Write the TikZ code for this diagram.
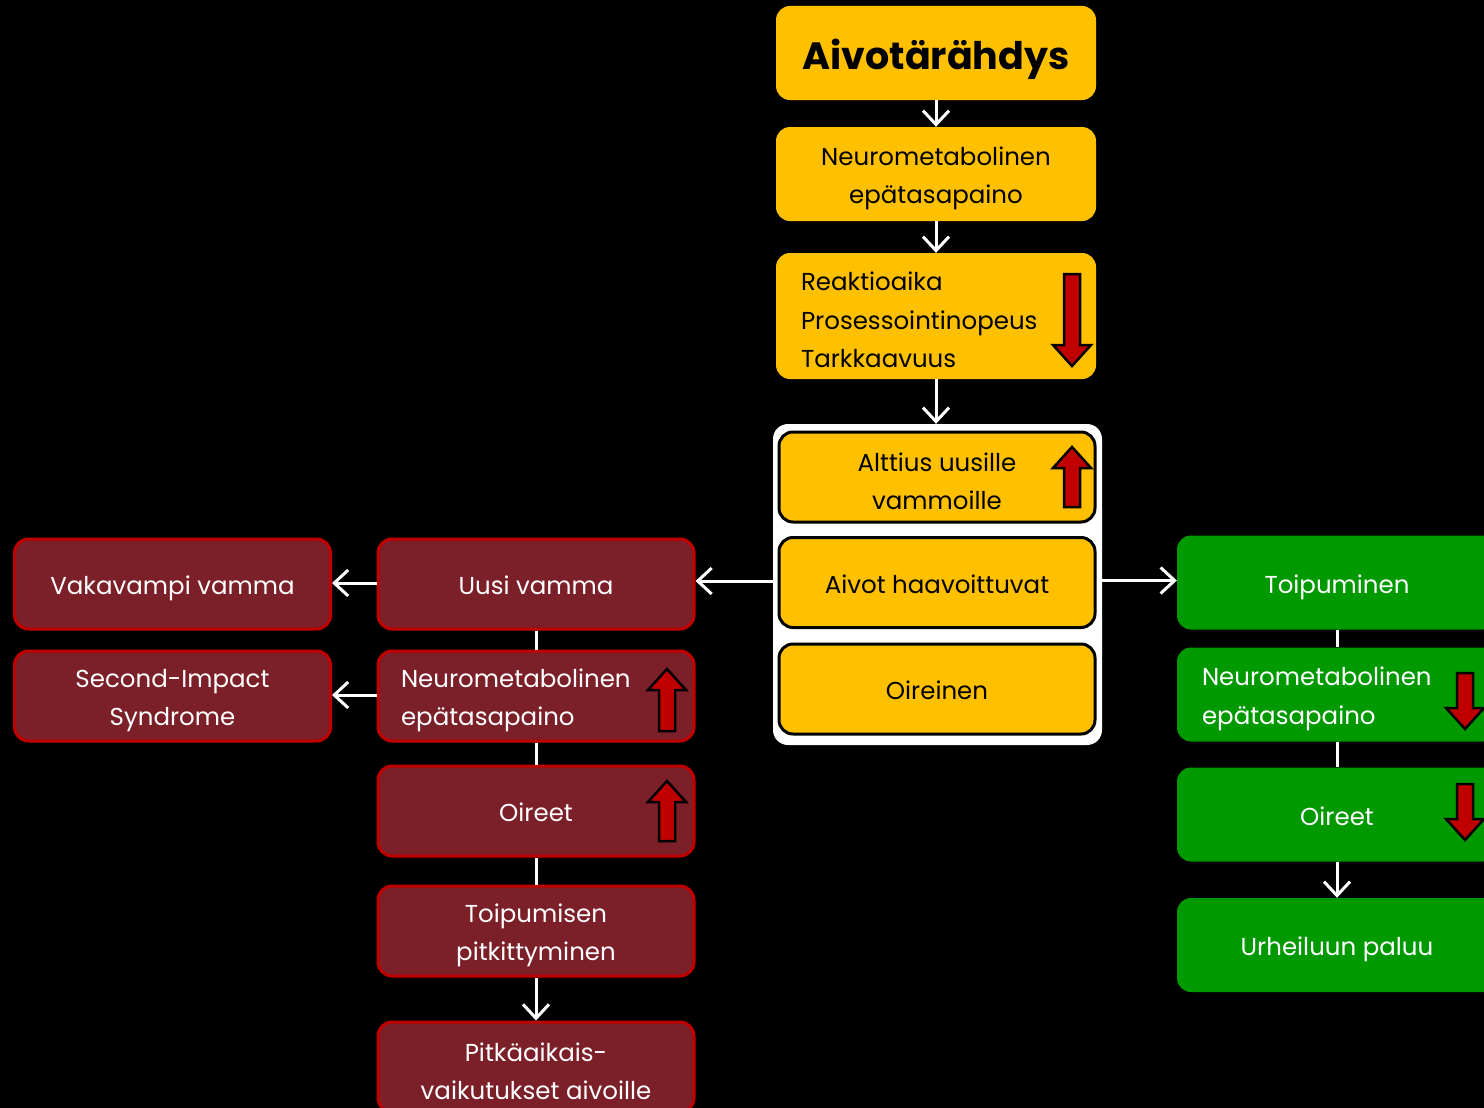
\documentclass[tikz,border=0pt]{standalone}
\usepackage{fontspec}
\setmainfont{Poppins}
\usetikzlibrary{arrows.meta}
\definecolor{ygold}{HTML}{FFC000}
\definecolor{rfill}{HTML}{7B1F29}
\definecolor{rline}{HTML}{C00000}
\definecolor{gfill}{HTML}{009900}
\definecolor{arrred}{HTML}{C00000}
\newcommand\fatdown[3]{\filldraw[fill=arrred,draw=black,line width=2.5pt,line join=miter]
  (#1-8,#2) -- (#1+8,#2) -- (#1+8,#3-21) -- (#1+19,#3-21) -- (#1,#3) -- (#1-19,#3-21) -- (#1-8,#3-21) -- cycle;}
\newcommand\fatup[3]{\filldraw[fill=arrred,draw=black,line width=2.5pt,line join=miter]
  (#1-8,#3) -- (#1+8,#3) -- (#1+8,#2+21) -- (#1+19,#2+21) -- (#1,#2) -- (#1-19,#2+21) -- (#1-8,#2+21) -- cycle;}
% box node + its text node, text lowered a little
\newcommand\bx[5][]{\node[#2] (#3) at #4 {};
  \node[#2text,#1] (#3t) at ([yshift=-4.5pt]#3.center) {#5};}
\tikzset{
  txt/.style={font=\fontsize{24.5}{38.5}\selectfont,inner sep=0pt,align=center},
  one/.style={text height=18pt,text depth=6pt},
  ybox/.style={rectangle,rounded corners=14pt,fill=ygold,minimum width=320pt,minimum height=94pt,inner sep=0pt},
  yboxtext/.style={txt,text=black},
  ybord/.style={ybox,draw=black,line width=3pt,minimum width=316pt,minimum height=90pt},
  ybordtext/.style={txt,text=black},
  rbox/.style={rectangle,rounded corners=14pt,fill=rfill,draw=rline,line width=3pt,minimum width=316pt,minimum height=90pt,inner sep=0pt},
  rboxtext/.style={txt,text=white},
  gbox/.style={rectangle,rounded corners=14pt,fill=gfill,minimum width=320pt,minimum height=94pt,inner sep=0pt},
  gboxtext/.style={txt,text=white},
  lefttext/.style={text width=270pt,align=left},
  conn/.style={draw=white,line width=3pt},
  arr/.style={conn,-{Straight Barb[length=14pt,width=26pt,line width=3pt]}},
}
\begin{document}
\begin{tikzpicture}[x=1pt,y=-1pt]
\fill[black] (0,0) rectangle (1484,1108);
\useasboundingbox (0,0) rectangle (1484,1108);
\clip (0,0) rectangle (1484,1108);
% top chain
\bx[font=\fontsize{38}{40}\selectfont\bfseries,yshift=-1.5pt]{ybox}{title}{(936,53)}{Aivotärähdys}
\bx{ybox}{n1}{(936,174)}{Neurometabolinen\\epätasapaino}
\node[ybox,minimum height=126pt] (reak) at (936,316) {};
\node[yboxtext,lefttext] (reakt) at ([yshift=-4pt]reak.center) {Reaktioaika\\Prosessointinopeus\\Tarkkaavuus};
\fatdown{1072}{274}{366}
% container
\node[rectangle,rounded corners=15pt,fill=white,minimum width=329pt,minimum height=321pt,inner sep=0pt] (cont) at (937.5,584.5) {};
\bx{ybord}{alt}{(937,477)}{Alttius uusille\\vammoille}
\fatup{1072}{447}{507}
\bx[one]{ybord}{aivot}{(937,582.5)}{Aivot haavoittuvat}
\bx[one]{ybord}{oir}{(937,689)}{Oireinen}
% arrows top
\draw[arr] (title.south) -- (n1.north);
\draw[arr] (n1.south) -- (reak.north);
\draw[arr] (reak.south) -- (reak.south |- cont.north);
% red side
\bx[one]{rbox}{uusi}{(536,584)}{Uusi vamma}
\bx[one]{rbox}{vaka}{(172.5,584)}{Vakavampi vamma}
\bx[lefttext]{rbox}{n2}{(536,696)}{Neurometabolinen\\epätasapaino}
\fatup{667}{669}{731}
\bx{rbox}{sis}{(172.5,696)}{Second-Impact\\Syndrome}
\bx[one]{rbox}{oireet}{(536,811)}{Oireet}
\fatup{667}{781}{841}
\bx{rbox}{toip}{(536,931)}{Toipumisen\\pitkittyminen}
\bx{rbox}{pitk}{(536,1067)}{Pitkäaikais-\\vaikutukset aivoille}
\draw[arr] (cont.west |- uusi) ++(0,-3) coordinate (cw) -- (uusi.east |- cw);
\draw[arr] (uusi.west) ++(0,-1) coordinate (uw) -- (vaka.east |- uw);
\draw[arr] (n2.west) ++(0,-1) coordinate (nw) -- (sis.east |- nw);
\draw[conn] (uusi.south) -- (n2.north);
\draw[conn] (n2.south) -- (oireet.north);
\draw[conn] (oireet.south) -- (toip.north);
\draw[arr] (toip.south) -- (pitk.north);
% green side
\bx[one]{gbox}{toipu}{(1337,582.5)}{Toipuminen}
\bx[lefttext]{gbox}{n3}{(1337,694.5)}{Neurometabolinen\\epätasapaino}
\fatdown{1465}{673}{729}
\bx[one]{gbox}{oireet2}{(1337,814.5)}{Oireet}
\fatdown{1465}{784}{840}
\bx[one]{gbox}{urh}{(1337,945)}{Urheiluun paluu}
\draw[arr] (cont.east |- toipu) ++(0,-2) coordinate (ce) -- (toipu.west |- ce);
\draw[conn] (toipu.south) -- (n3.north);
\draw[conn] (n3.south) -- (oireet2.north);
\draw[arr] (oireet2.south) -- (urh.north);
\end{tikzpicture}
\end{document}
